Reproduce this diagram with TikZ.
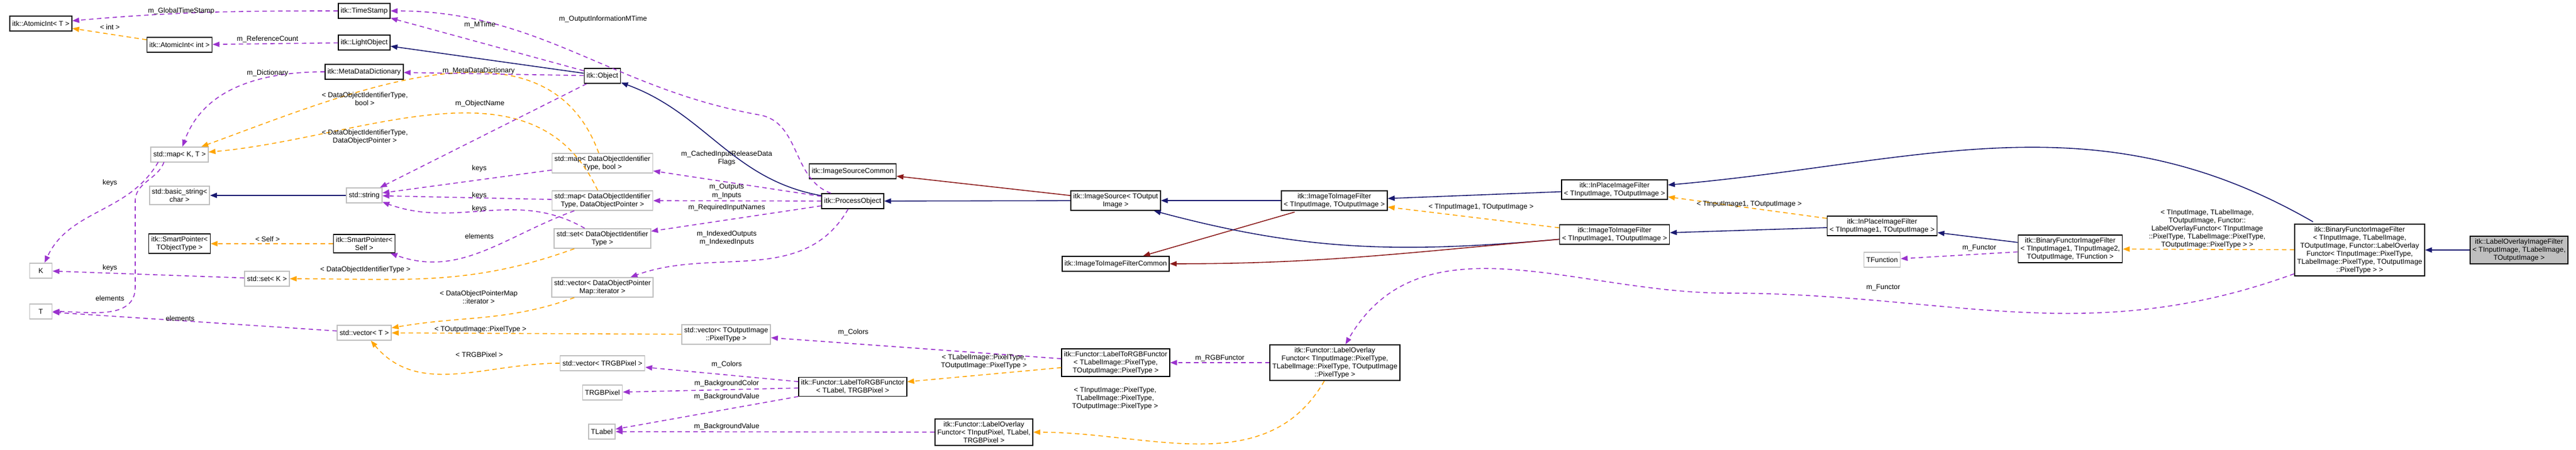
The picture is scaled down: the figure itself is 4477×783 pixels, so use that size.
\documentclass[tikz,border=0pt]{standalone}
\usepackage{fontspec}
\setmainfont{Liberation Sans}
\usetikzlibrary{arrows.meta}

\definecolor{inhcol}{HTML}{191970}
\definecolor{privcol}{HTML}{8B1A1A}
\definecolor{usecol}{HTML}{9A32CD}
\definecolor{tplcol}{HTML}{FFA500}

\tikzset{
  box/.style={draw=black, fill=white, line width=0.45pt, align=center, inner sep=1.2pt,
    minimum height=0.26cm, font=\fontsize{3.5}{4}\selectfont},
  gbox/.style={box, draw=black!25},
  lbl/.style={align=center, inner sep=0pt, font=\fontsize{3.5}{4}\selectfont},
  tip/.style={-{Triangle[length=0.12cm,width=0.09cm]}},
  inh/.style={tip, draw=inhcol, line width=0.45pt},
  priv/.style={tip, draw=privcol, line width=0.45pt},
  use/.style={tip, draw=usecol, line width=0.45pt, dash pattern=on 2.2pt off 1.7pt},
  tpl/.style={tip, draw=tplcol, line width=0.45pt, dash pattern=on 2.2pt off 1.7pt}
}

\begin{document}
\begin{tikzpicture}[x=0.01cm, y=-0.01cm]
\useasboundingbox (0,0) rectangle (4477,783);

% Klassen links
\node[box] (AtomicT) at (71,41) {itk::AtomicInt< T >};
\node[box] (TimeStamp) at (633,19) {itk::TimeStamp};
\node[box] (AtomicInt) at (312,78) {itk::AtomicInt< int >};
\node[box] (LightObject) at (633,74) {itk::LightObject};
\node[box] (MetaDict) at (633,125) {itk::MetaDataDictionary};
\node[gbox] (MapKT) at (312,269) {std::map< K, T >};
\node[gbox] (BasicString) at (312,340) {std::basic\_string<\\char >};
\node[gbox] (String) at (633,340) {std::string};
\node[box] (SmartObj) at (312,424) {itk::SmartPointer<\\TObjectType >};
\node[box] (SmartSelf) at (633,424) {itk::SmartPointer<\\Self >};
\node[gbox, minimum width=0.39cm] (K) at (71,471) {K};
\node[gbox, minimum width=0.39cm] (T) at (71,542) {T};
\node[gbox] (SetK) at (464,485) {std::set< K >};
\node[gbox] (VectorT) at (633,579) {std::vector< T >};

% Mitte
\node[box] (Object) at (1047,132) {itk::Object};
\node[gbox] (MapBool) at (1047,284) {std::map< DataObjectIdentifier\\Type, bool >};
\node[gbox] (MapPtr) at (1047,349) {std::map< DataObjectIdentifier\\Type, DataObjectPointer >};
\node[gbox] (SetDOI) at (1047,415) {std::set< DataObjectIdentifier\\Type >};
\node[gbox] (VectorIter) at (1047,500) {std::vector< DataObjectPointer\\Map::iterator >};
\node[gbox] (VectorOut) at (1262,582) {std::vector< TOutputImage\\::PixelType >};
\node[gbox] (VectorRGB) at (1047,632) {std::vector< TRGBPixel >};
\node[gbox] (TRGBPixel) at (1047,683) {TRGBPixel};
\node[gbox] (TLabel) at (1046,751) {TLabel};
\node[box] (SourceCommon) at (1482,298) {itk::ImageSourceCommon};
\node[box] (ProcessObject) at (1482,350) {itk::ProcessObject};
\node[box] (RGBFunctorA) at (1482,673) {itk::Functor::LabelToRGBFunctor\\< TLabel, TRGBPixel >};
\node[box] (OverlayFunctorA) at (1710,752) {itk::Functor::LabelOverlay\\Functor< TInputPixel, TLabel,\\TRGBPixel >};

% Filter
\node[box] (ImageSource) at (1939,349) {itk::ImageSource< TOutput\\Image >};
\node[box] (FilterCommon) at (1939,459) {itk::ImageToImageFilterCommon};
\node[box] (RGBFunctorB) at (1939,631) {itk::Functor::LabelToRGBFunctor\\< TLabelImage::PixelType,\\TOutputImage::PixelType >};
\node[box] (ImgFilterA) at (2319,349) {itk::ImageToImageFilter\\< TInputImage, TOutputImage >};
\node[box] (OverlayFunctorB) at (2320,631) {itk::Functor::LabelOverlay\\Functor< TInputImage::PixelType,\\TLabelImage::PixelType, TOutputImage\\::PixelType >};
\node[box] (InPlaceA) at (2806,330) {itk::InPlaceImageFilter\\< TInputImage, TOutputImage >};
\node[box] (ImgFilterB) at (2806,408) {itk::ImageToImageFilter\\< TInputImage1, TOutputImage >};
\node[box] (InPlaceB) at (3271,393) {itk::InPlaceImageFilter\\< TInputImage1, TOutputImage >};
\node[gbox] (TFunction) at (3271,452) {TFunction};
\node[box] (BinaryA) at (3598,433) {itk::BinaryFunctorImageFilter\\< TInputImage1, TInputImage2,\\TOutputImage, TFunction >};
\node[box] (BinaryB) at (4101,435) {itk::BinaryFunctorImageFilter\\< TInputImage, TLabelImage,\\TOutputImage, Functor::LabelOverlay\\Functor< TInputImage::PixelType,\\TLabelImage::PixelType, TOutputImage\\::PixelType > >};
\node[box, fill=black!25] (OverlayFilter) at (4378,435) {itk::LabelOverlayImageFilter\\< TInputImage, TLabelImage,\\TOutputImage >};

\coordinate (ImgFilterAFoot) at (2250,369);
\coordinate (BinaryBTop) at (4020,386);
\coordinate (MapKTFootA) at (275,282);
\coordinate (MapKTFootB) at (285,282);

% Vererbung
\draw[inh] (Object) -- (LightObject);
\draw[inh] (String) -- (BasicString);
\draw[inh] (ProcessObject) to[out=170, in=-20] (Object);
\draw[inh] (ImageSource) -- (ProcessObject);
\draw[priv] (ImageSource) -- (SourceCommon);
\draw[inh] (ImgFilterA) -- (ImageSource);
\draw[priv] (ImgFilterAFoot) -- (FilterCommon);
\draw[inh] (ImgFilterB) to[out=185, in=-15] (ImageSource);
\draw[priv] (ImgFilterB) to[out=185, in=0] (FilterCommon);
\draw[inh] (InPlaceA) -- (ImgFilterA);
\draw[inh] (InPlaceB) -- (ImgFilterB);
\draw[inh] (BinaryA) -- (InPlaceB);
\draw[inh] (BinaryBTop) to[out=150, in=5] (InPlaceA);
\draw[inh] (OverlayFilter) -- (BinaryB);

% Templates
\draw[tpl] (AtomicInt) -- (AtomicT);
\draw[tpl] (MapBool) to[out=110, in=20] (MapKT);
\draw[tpl] (MapPtr) to[out=115, in=5] (MapKT);
\draw[tpl] (SmartSelf) -- (SmartObj);
\draw[tpl] (SetDOI) to[out=200, in=0] (SetK);
\draw[tpl] (VectorIter) to[out=200, in=10] (VectorT);
\draw[tpl] (VectorOut) -- (VectorT);
\draw[tpl] (VectorRGB) to[out=180, in=-50] (VectorT);
\draw[tpl] (ImgFilterB) -- (ImgFilterA);
\draw[tpl] (InPlaceB) -- (InPlaceA);
\draw[tpl] (BinaryB) -- (BinaryA);
\draw[tpl] (RGBFunctorB) -- (RGBFunctorA);
\draw[tpl] (OverlayFunctorB) to[out=-120, in=0] (OverlayFunctorA);

% Member
\draw[use] (TimeStamp) to[out=180, in=5] (AtomicT);
\draw[use] (LightObject) -- (AtomicInt);
\draw[use] (Object) -- (TimeStamp);
\draw[use] (ProcessObject) to[out=160, in=-10] (1320,200) to[out=170, in=0] (TimeStamp);
\draw[use] (Object) -- (MetaDict);
\draw[use] (MetaDict) to[out=180, in=70] (MapKT);
\draw[use] (Object) -- (String);
\draw[use] (MapBool) -- (String);
\draw[use] (MapPtr) -- (String);
\draw[use] (SetDOI) to[out=150, in=-20] (String);
\draw[use] (MapKTFootA) to[out=-120, in=65] (K);
\draw[use] (MapKTFootB) to[out=-110, in=90] (235,350) -- (235,500) to[out=-90, in=0] (T);
\draw[use] (MapPtr) to[out=-160, in=-20] (SmartSelf);
\draw[use] (SetK) -- (K);
\draw[use] (VectorT) -- (T);
\draw[use] (ProcessObject) -- (MapBool);
\draw[use] (ProcessObject) -- (MapPtr);
\draw[use] (ProcessObject) -- (SetDOI);
\draw[use] (ProcessObject) to[out=-120, in=20] (VectorIter);
\draw[use] (BinaryA) -- (TFunction);
\draw[use] (BinaryB) to[out=-160, in=0] (3000,510) to[out=180, in=60] (OverlayFunctorB);
\draw[use] (OverlayFunctorB) -- (RGBFunctorB);
\draw[use] (RGBFunctorB) -- (VectorOut);
\draw[use] (RGBFunctorA) -- (VectorRGB);
\draw[use] (RGBFunctorA) -- (TRGBPixel);
\draw[use] (RGBFunctorA) -- (TLabel);
\draw[use] (OverlayFunctorA) -- (TLabel);

% Beschriftungen
\node[lbl] (lGlobal) at (315,19) {m\_GlobalTimeStamp};
\node[lbl] (lInt) at (191,47) {< int >};
\node[lbl] (lRefCount) at (465,68) {m\_ReferenceCount};
\node[lbl] (lMTime) at (834,43) {m\_MTime};
\node[lbl] (lDict) at (465,127) {m\_Dictionary};
\node[lbl] (lMetaDict) at (832,123) {m\_MetaDataDictionary};
\node[lbl] (lMapBool) at (634,172) {< DataObjectIdentifierType,\\bool >};
\node[lbl] (lObjName) at (834,180) {m\_ObjectName};
\node[lbl] (lMapPtr) at (634,238) {< DataObjectIdentifierType,\\DataObjectPointer >};
\node[lbl] (lKeysA) at (833,293) {keys};
\node[lbl] (lKeysB) at (191,318) {keys};
\node[lbl] (lKeysC) at (833,340) {keys};
\node[lbl] (lKeysD) at (833,363) {keys};
\node[lbl] (lElemA) at (833,411) {elements};
\node[lbl] (lSelf) at (465,416) {< Self >};
\node[lbl] (lKeysE) at (191,466) {keys};
\node[lbl] (lSetDOI) at (635,469) {< DataObjectIdentifierType >};
\node[lbl] (lIter) at (832,517) {< DataObjectPointerMap\\::iterator >};
\node[lbl] (lElemB) at (191,519) {elements};
\node[lbl] (lElemC) at (313,554) {elements};
\node[lbl] (lOutPix) at (835,573) {< TOutputImage::PixelType >};
\node[lbl] (lRGB) at (833,617) {< TRGBPixel >};
\node[lbl] (lOutMTime) at (1048,33) {m\_OutputInformationMTime};
\node[lbl] (lCached) at (1263,275) {m\_CachedInputReleaseData\\Flags};
\node[lbl] (lOutputs) at (1263,333) {m\_Outputs\\m\_Inputs};
\node[lbl] (lRequired) at (1263,361) {m\_RequiredInputNames};
\node[lbl] (lIndexed) at (1263,414) {m\_IndexedOutputs\\m\_IndexedInputs};
\node[lbl] (lColorsA) at (1483,578) {m\_Colors};
\node[lbl] (lLabelPix) at (1710,629) {< TLabelImage::PixelType,\\TOutputImage::PixelType >};
\node[lbl] (lColorsB) at (1263,634) {m\_Colors};
\node[lbl] (lBgColor) at (1263,667) {m\_BackgroundColor};
\node[lbl] (lBgValA) at (1263,690) {m\_BackgroundValue};
\node[lbl] (lBgValB) at (1263,742) {m\_BackgroundValue};
\node[lbl] (lRGBFunctor) at (2120,623) {m\_RGBFunctor};
\node[lbl] (lPixTypes) at (1938,693) {< TInputImage::PixelType,\\TLabelImage::PixelType,\\TOutputImage::PixelType >};
\node[lbl] (lImg1A) at (2574,360) {< TInputImage1, TOutputImage >};
\node[lbl] (lImg1B) at (3040,355) {< TInputImage1, TOutputImage >};
\node[lbl] (lFunctorA) at (3440,431) {m\_Functor};
\node[lbl] (lFunctorB) at (3273,500) {m\_Functor};
\node[lbl] (lBinary) at (3836,398) {< TInputImage, TLabelImage,\\TOutputImage, Functor::\\LabelOverlayFunctor< TInputImage\\::PixelType, TLabelImage::PixelType,\\TOutputImage::PixelType > >};
\end{tikzpicture}
\end{document}
